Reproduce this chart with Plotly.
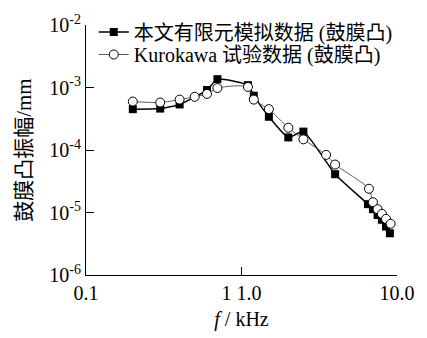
import plotly.graph_objects as go

# FE model data (filled squares)
fe_freq = [0.2, 0.3, 0.4, 0.6, 0.7, 1.1, 1.2, 1.5, 2.0, 2.5, 4.0, 6.5, 7.0, 7.5, 8.0, 8.5, 9.0]
fe_amp = [4.5e-4, 4.6e-4, 5.36e-4, 9.1e-4, 1.36e-3, 1.09e-3, 7.4e-4, 3.4e-4,
          1.59e-4, 1.97e-4, 4.1e-5, 1.36e-5, 1.13e-5, 9.1e-6, 7.65e-6, 5.96e-6, 4.65e-6]

# Kurokawa experimental data (open circles)
ku_freq = [0.2, 0.3, 0.4, 0.5, 0.6, 0.7, 1.1, 1.2, 1.5, 2.0, 2.5, 3.5, 4.0, 6.6, 7.0, 7.5, 8.0, 8.5, 9.1]
ku_amp = [5.96e-4, 5.75e-4, 6.4e-4, 7.1e-4, 7.9e-4, 9.8e-4, 1.02e-3, 6.4e-4, 4.5e-4,
          2.27e-4, 1.48e-4, 8.36e-5, 5.85e-5, 2.4e-5, 1.46e-5, 1.13e-5, 9.5e-6, 7.9e-6, 6.6e-6]

x_tickvals = [0.1, 1.0, 10.0]
x_ticktext = ["0.1", "1 1.0", "10.0"]
y_tickvals = [1e-6, 1e-5, 1e-4, 1e-3, 1e-2]
y_ticktext = ["10<sup>-6</sup>", "10<sup>-5</sup>", "10<sup>-4</sup>", "10<sup>-3</sup>", "10<sup>-2</sup>"]

name_fe = "本文有限元模拟数据 (鼓膜凸)"
name_ku = "Kurokawa 试验数据 (鼓膜凸)"
y_title = "鼓膜凸振幅/mm"
x_title = "<i>f</i> / kHz"

FONT = "Liberation Serif, Noto Sans CJK SC"

fig = go.Figure()
fig.add_trace(go.Scatter(
    x=fe_freq, y=fe_amp, name=name_fe, mode="lines+markers",
    line=dict(color="black", width=1.5, shape="spline", smoothing=0.5),
    marker=dict(symbol="square", size=8, color="black"),
    legend="legend",
))
fig.add_trace(go.Scatter(
    x=ku_freq, y=ku_amp, name=name_ku, mode="lines+markers",
    line=dict(color="#333333", width=0.8, shape="spline", smoothing=0.7),
    marker=dict(symbol="circle", size=9, color="white", line=dict(color="black", width=1)),
    legend="legend2",
))

fig.update_layout(
    width=427, height=338,
    margin=dict(l=86, r=19, t=17, b=63),
    paper_bgcolor="white", plot_bgcolor="white",
    font=dict(family=FONT, color="black", size=19),
    legend=dict(x=0.025, y=1.05, xanchor="left", yanchor="top",
                font=dict(size=20, family=FONT), bgcolor="rgba(0,0,0,0)",
                itemwidth=30, tracegroupgap=0),
    legend2=dict(x=0.025, y=0.96, xanchor="left", yanchor="top",
                 font=dict(size=20, family=FONT), bgcolor="rgba(0,0,0,0)",
                 itemwidth=30, tracegroupgap=0),
    showlegend=True,
    annotations=[dict(
        text=y_title, textangle=-90, xref="paper", yref="paper",
        x=-0.2, y=0.5, xanchor="center", yanchor="middle", showarrow=False,
        font=dict(size=21, family=FONT, color="black"),
    )],
)
fig.update_xaxes(
    type="log", range=[-1, 1], tickvals=x_tickvals, ticktext=x_ticktext,
    showline=True, linecolor="black", linewidth=1, mirror=False,
    ticks="inside", ticklen=8, tickcolor="black", showgrid=False, zeroline=False,
    tickfont=dict(size=20, family="Liberation Serif"),
    title=dict(text=x_title, font=dict(size=20, family="Liberation Serif"), standoff=8),
)
fig.update_yaxes(
    type="log", range=[-6, -2], tickvals=y_tickvals, ticktext=y_ticktext,
    showline=True, linecolor="black", linewidth=1, mirror=False,
    ticks="inside", ticklen=8, tickcolor="black", showgrid=False, zeroline=False,
    tickfont=dict(size=20, family="Liberation Serif"),
)

fig.write_html("out.html")
